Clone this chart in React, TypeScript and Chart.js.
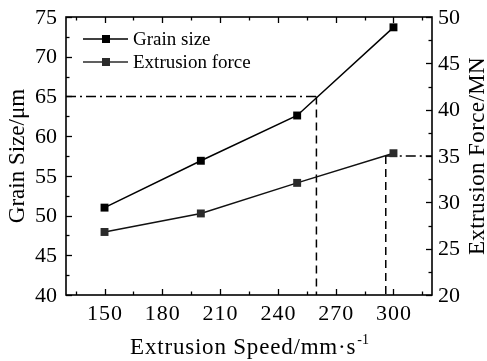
import React, { useEffect, useRef } from "react";
import { Chart, registerables } from "chart.js";

Chart.register(...registerables);

const speeds = [150, 200, 250, 300];
const grainSize = [51.0, 56.9, 62.6, 73.7];
const extrusionForce = [26.8, 28.8, 32.1, 35.3];
const xTicks = [150, 180, 210, 240, 270, 300];
const leftTicks = [40, 45, 50, 55, 60, 65, 70, 75];
const rightTicks = [20, 25, 30, 35, 40, 45, 50];
const refSpeeds = [260, 296];
const refValues = [65, 35];
const seriesNames = ["Grain size", "Extrusion force"];

const FONT = "'Liberation Serif', 'Times New Roman', serif";

const decorPlugin = {
  id: "decor",
  afterDraw(chart: any) {
    const { ctx, chartArea } = chart;
    const { left, right, top, bottom } = chartArea;
    const x = chart.scales.x;
    const yL = chart.scales.yL;
    const yR = chart.scales.yR;
    ctx.save();
    ctx.strokeStyle = "#000";
    ctx.fillStyle = "#000";
    ctx.lineWidth = 1.6;
    ctx.strokeRect(left, top, right - left, bottom - top);

    const major = 6;
    const minor = 3.5;
    ctx.lineWidth = 1.3;
    const xStep = xTicks[1] - xTicks[0];
    const tick = (x1: number, y1: number, x2: number, y2: number) => {
      ctx.beginPath();
      ctx.moveTo(x1, y1);
      ctx.lineTo(x2, y2);
      ctx.stroke();
    };
    xTicks.forEach((v) => {
      const px = Math.round(x.getPixelForValue(v)) + 0.5;
      tick(px, bottom, px, bottom - major);
      tick(px, top, px, top + major);
    });
    const xMinor = [xTicks[0] - xStep / 2, ...xTicks.map((v) => v + xStep / 2)];
    xMinor.forEach((v) => {
      if (v < x.min || v > x.max) return;
      const px = Math.round(x.getPixelForValue(v)) + 0.5;
      tick(px, bottom, px, bottom - minor);
      tick(px, top, px, top + minor);
    });
    const lStep = leftTicks[1] - leftTicks[0];
    leftTicks.forEach((v, i) => {
      const py = Math.round(yL.getPixelForValue(v)) + 0.5;
      tick(left, py, left + major, py);
      if (i < leftTicks.length - 1) {
        const pm = Math.round(yL.getPixelForValue(v + lStep / 2)) + 0.5;
        tick(left, pm, left + minor, pm);
      }
    });
    const rStep = rightTicks[1] - rightTicks[0];
    rightTicks.forEach((v, i) => {
      const py = Math.round(yR.getPixelForValue(v)) + 0.5;
      tick(right, py, right - major, py);
      if (i < rightTicks.length - 1) {
        const pm = Math.round(yR.getPixelForValue(v + rStep / 2)) + 0.5;
        tick(right, pm, right - minor, pm);
      }
    });

    // tick labels
    ctx.font = `22px ${FONT}`;
    ctx.textBaseline = "alphabetic";
    ctx.textAlign = "center";
    (ctx as any).letterSpacing = "1px";
    xTicks.forEach((v) => {
      const px = x.getPixelForValue(v);
      ctx.fillText(String(v), px + 0.5, bottom + 25);
    });
    (ctx as any).letterSpacing = "0px";
    ctx.textBaseline = "middle";
    ctx.textAlign = "right";
    leftTicks.forEach((v) => {
      ctx.fillText(String(v), left - 9, yL.getPixelForValue(v) + 1);
    });
    ctx.textAlign = "left";
    rightTicks.forEach((v) => {
      ctx.fillText(String(v), right + 6, yR.getPixelForValue(v) + 1);
    });

    // titles
    const midY = (top + bottom) / 2;
    ctx.font = `23px ${FONT}`;
    ctx.textAlign = "center";
    ctx.textBaseline = "middle";
    ctx.save();
    ctx.translate(18, midY);
    ctx.rotate(-Math.PI / 2);
    ctx.fillText("Grain Size/μm", 0, 0);
    ctx.restore();
    ctx.save();
    ctx.translate(478, midY);
    ctx.rotate(-Math.PI / 2);
    (ctx as any).letterSpacing = "0.4px";
    ctx.fillText("Extrusion Force/MN", 0, 0);
    ctx.restore();

    // x title with superscript
    const main = "Extrusion Speed/mm·s";
    const sup = "-1";
    (ctx as any).letterSpacing = "0.8px";
    ctx.font = `23px ${FONT}`;
    ctx.textBaseline = "alphabetic";
    ctx.textAlign = "left";
    const wMain = ctx.measureText(main).width;
    (ctx as any).letterSpacing = "0px";
    ctx.font = `14px ${FONT}`;
    const wSup = ctx.measureText(sup).width;
    const startX = (left + right) / 2 - (wMain + wSup) / 2;
    const baseY = 354;
    (ctx as any).letterSpacing = "0.8px";
    ctx.font = `23px ${FONT}`;
    ctx.fillText(main, startX, baseY);
    (ctx as any).letterSpacing = "0px";
    ctx.font = `14px ${FONT}`;
    ctx.fillText(sup, startX + wMain + 1, baseY - 10);

    // legend
    ctx.font = `19px ${FONT}`;
    ctx.textBaseline = "middle";
    ctx.textAlign = "left";
    const colors = ["#000", "#2b2b2b"];
    const rows = [39, 62];
    seriesNames.forEach((name, i) => {
      const yy = rows[i];
      ctx.strokeStyle = colors[i];
      ctx.fillStyle = colors[i];
      ctx.lineWidth = 1.5;
      tick(83, yy, 128, yy);
      ctx.fillRect(106 - 4, yy - 4, 8, 8);
      ctx.fillStyle = "#000";
      ctx.fillText(name, 133, yy + 1);
    });
    ctx.restore();
  },
};

export default function App() {
  const ref = useRef<HTMLCanvasElement | null>(null);
  useEffect(() => {
    if (!ref.current) return;
    const chart = new Chart(ref.current, {
      type: "line",
      data: {
        datasets: [
          {
            label: seriesNames[0],
            data: speeds.map((s, i) => ({ x: s, y: grainSize[i] })),
            yAxisID: "yL",
            borderColor: "#000",
            backgroundColor: "#000",
            borderWidth: 1.5,
            pointStyle: "rect",
            pointRadius: 5.6,
            pointBorderWidth: 0,
          },
          {
            label: seriesNames[1],
            data: speeds.map((s, i) => ({ x: s, y: extrusionForce[i] })),
            yAxisID: "yR",
            borderColor: "#111",
            backgroundColor: "#2b2b2b",
            borderWidth: 1.5,
            pointStyle: "rect",
            pointRadius: 5.6,
            pointBorderWidth: 0,
          },
          {
            label: "ref1h",
            data: [
              { x: 130, y: refValues[0] },
              { x: refSpeeds[0], y: refValues[0] },
            ],
            yAxisID: "yL",
            borderColor: "#000",
            borderWidth: 1.5,
            borderDash: [10, 4, 2, 4],
            pointRadius: 0,
          },
          {
            label: "ref1v",
            data: [
              { x: refSpeeds[0], y: refValues[0] },
              { x: refSpeeds[0], y: 40 },
            ],
            yAxisID: "yL",
            borderColor: "#000",
            borderWidth: 1.5,
            borderDash: [8, 5],
            pointRadius: 0,
          },
          {
            label: "ref2h",
            data: [
              { x: refSpeeds[1], y: refValues[1] },
              { x: 320, y: refValues[1] },
            ],
            yAxisID: "yR",
            borderColor: "#000",
            borderWidth: 1.5,
            borderDash: [10, 4, 2, 4],
            pointRadius: 0,
          },
          {
            label: "ref2v",
            data: [
              { x: refSpeeds[1], y: refValues[1] },
              { x: refSpeeds[1], y: 20 },
            ],
            yAxisID: "yR",
            borderColor: "#000",
            borderWidth: 1.5,
            borderDash: [8, 5],
            pointRadius: 0,
          },
        ],
      },
      options: {
        animation: false,
        responsive: false,
        layout: { padding: { left: 66, right: 55, top: 17, bottom: 66 } },
        plugins: { legend: { display: false }, tooltip: { enabled: false } },
        scales: {
          x: { type: "linear", min: 130, max: 320, display: false },
          yL: { type: "linear", position: "left", min: 40, max: 75, display: false },
          yR: { type: "linear", position: "right", min: 20, max: 50, display: false },
        },
      },
      plugins: [decorPlugin],
    });
    return () => chart.destroy();
  }, []);
  return (
    <div style={{ position: "absolute", left: 0, top: 0, width: 487, height: 361, background: "#fff" }}>
      <canvas ref={ref} width={487} height={361} style={{ width: 487, height: 361 }} />
    </div>
  );
}
